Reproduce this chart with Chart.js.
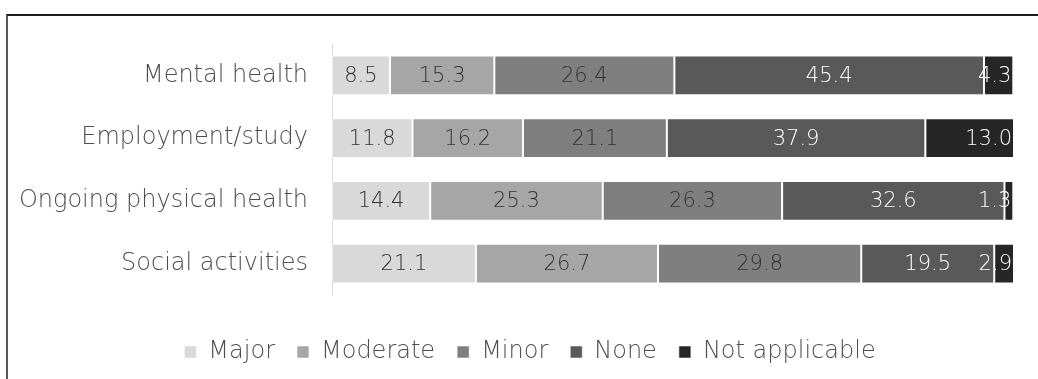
<!DOCTYPE html>
<html>
<head>
<meta charset="utf-8">
<title>Impact by area</title>
<script src="https://cdn.jsdelivr.net/npm/chart.js@4/dist/chart.umd.min.js"></script>
<style>
  html, body { margin: 0; padding: 0; background: #fff; overflow: hidden; }
  #wrap { position: relative; width: 1038px; height: 379px; }
  #frame {
    position: absolute; left: 6px; top: 14px; width: 1100px; height: 400px;
    border-top: 2px solid #1a1a1a; border-left: 2px solid #595959;
  }
  #chart { position: absolute; left: 0; top: 0; }
</style>
</head>
<body>
<div id="wrap">
  <div id="frame"></div>
  <canvas id="chart" width="1038" height="379"></canvas>
</div>
<script>
const categories = ['Mental health', 'Employment/study', 'Ongoing physical health', 'Social activities'];
const seriesNames = ['Major', 'Moderate', 'Minor', 'None', 'Not applicable'];
const major = [8.5, 11.8, 14.4, 21.1];
const moderate = [15.3, 16.2, 25.3, 26.7];
const minor = [26.4, 21.1, 26.3, 29.8];
const none = [45.4, 37.9, 32.6, 19.5];
const notApplicable = [4.3, 13.0, 1.3, 2.9];

const fills = ['#d9d9d9', '#a6a6a6', '#7f7f7f', '#595959', '#262626'];
const labelColors = ['#333333', '#333333', '#333333', '#ffffff', '#ffffff'];
const FONT = '"DejaVu Sans", sans-serif';

// value labels: centred in each segment, last series pinned to the bar end
const segmentLabels = {
  id: 'segmentLabels',
  afterDatasetsDraw(chart) {
    const ctx = chart.ctx;
    ctx.save();
    ctx.font = '200 21px ' + FONT;
    ctx.textBaseline = 'middle';
    chart.data.datasets.forEach((ds, i) => {
      const meta = chart.getDatasetMeta(i);
      meta.data.forEach((bar, j) => {
        const p = bar.getProps(['x', 'y', 'base'], true);
        const txt = ds.data[j].toFixed(1);
        ctx.fillStyle = labelColors[i];
        if (i === chart.data.datasets.length - 1) {
          ctx.textAlign = 'right';
          ctx.fillText(txt, Math.max(p.x, p.base) - 2, p.y + 1);
        } else {
          ctx.textAlign = 'center';
          ctx.fillText(txt, (p.x + p.base) / 2, p.y + 1);
        }
      });
    });
    ctx.restore();
  }
};

// nudge the legend row so it sits centred under the whole frame
const legendShift = {
  id: 'legendShift',
  afterLayout(chart) {
    if (!chart.legend) return;
    chart.legend.left += 23;
    chart.legend.right += 23;
  }
};

const values = [major, moderate, minor, none, notApplicable];

new Chart(document.getElementById('chart'), {
  type: 'bar',
  data: {
    labels: categories,
    datasets: seriesNames.map((name, i) => ({
      label: name,
      data: values[i],
      backgroundColor: fills[i],
      borderColor: 'rgba(255,255,255,0.55)',
      borderWidth: 1,
      borderSkipped: false,
      categoryPercentage: 1,
      barPercentage: 0.63
    }))
  },
  options: {
    indexAxis: 'y',
    responsive: false,
    animation: false,
    events: [],
    layout: { padding: { top: 44, right: 24, bottom: 5, left: 0 } },
    scales: {
      x: {
        stacked: true,
        min: 0,
        max: 100,
        grid: { display: false, drawTicks: false },
        border: { display: false },
        ticks: { display: false },
        afterFit: function (scale) { scale.height = 23; }
      },
      y: {
        stacked: true,
        grid: { display: false, drawTicks: false },
        border: { display: true, color: '#d9d9d9', width: 1 },
        ticks: {
          color: '#4d4d4d',
          padding: 24,
          font: { family: FONT, size: 24, weight: 200 }
        },
        afterFit: function (scale) { scale.width = 332; }
      }
    },
    plugins: {
      legend: {
        position: 'bottom',
        labels: {
          color: '#4d4d4d',
          boxWidth: 12,
          boxHeight: 12,
          padding: 22,
          font: { family: FONT, size: 24, weight: 200 }
        }
      },
      tooltip: { enabled: false }
    }
  },
  plugins: [segmentLabels, legendShift]
});
</script>
</body>
</html>
